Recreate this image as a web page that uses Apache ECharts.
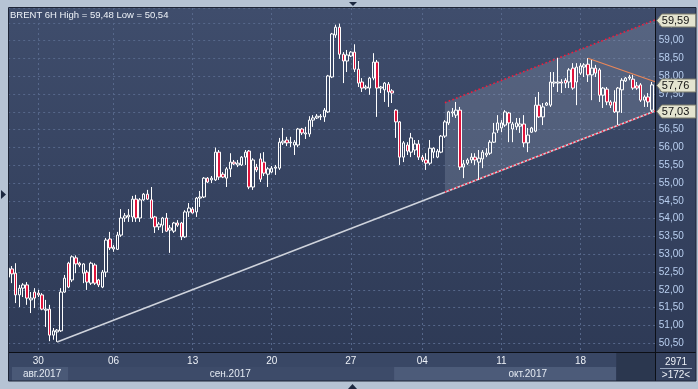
<!DOCTYPE html>
<html><head><meta charset="utf-8">
<script src="https://cdn.jsdelivr.net/npm/echarts@6/dist/echarts.min.js"></script>
<style>html,body{margin:0;padding:0;background:#b6c3d4;}#c{width:698px;height:389px;}</style>
</head><body><div id="c"></div>
<script>
// ---- data (BRENT 6H bars) ----
const opens = [52.36,52.59,52.47,51.86,52.05,52.14,51.72,51.94,51.91,51.86,51.43,51.46,50.73,50.82,50.85,51.94,52.75,52.28,52.90,52.75,52.47,52.50,52.19,52.70,52.28,52.08,52.50,53.43,53.15,53.14,53.54,54.02,54.05,54.05,54.55,54.02,54.53,54.69,54.53,54.05,53.77,53.82,54.02,53.68,53.65,53.88,53.88,53.49,54.19,54.27,54.19,54.58,54.61,55.14,55.09,55.09,55.87,55.25,55.14,55.40,55.59,55.51,55.51,55.73,55.90,54.89,55.45,55.68,55.59,55.25,55.31,55.42,55.42,56.13,56.21,56.13,56.07,56.07,56.52,56.38,56.38,56.77,56.83,56.86,56.86,57.00,57.98,59.16,59.38,58.62,58.43,58.57,58.68,58.20,57.84,57.67,57.67,57.95,58.40,57.67,57.62,57.78,57.59,57.05,56.72,55.73,56.07,55.87,55.93,56.10,55.73,55.65,55.56,55.87,55.73,55.87,56.32,56.69,56.97,56.91,57.05,55.45,55.56,55.65,55.73,55.59,55.68,55.79,55.84,56.15,56.49,56.55,56.63,56.97,56.52,56.58,56.60,56.66,56.13,56.43,56.46,57.19,56.86,57.19,57.19,57.81,57.81,57.84,57.89,57.84,58.23,57.84,58.09,58.26,58.34,58.04,58.23,58.18,57.47,57.64,57.28,57.28,57.00,57.62,57.87,57.95,57.92,57.73,57.76,57.33,57.42,57.05];
const closes = [52.61,52.45,51.86,52.05,52.14,51.77,51.77,51.77,51.86,51.46,51.46,50.73,50.85,50.87,51.94,52.33,52.08,52.93,52.73,52.70,52.73,52.22,52.75,52.19,52.14,52.50,53.40,53.18,53.20,53.54,54.02,54.08,54.10,54.55,54.02,54.53,54.69,54.55,54.02,53.77,53.85,54.02,53.65,53.74,53.88,53.82,53.49,54.19,54.30,54.16,54.58,54.61,55.14,55.03,55.14,55.87,55.17,55.17,55.40,55.59,55.54,55.56,55.73,55.87,54.89,55.65,55.37,55.11,55.28,55.40,55.42,55.45,56.15,56.18,56.13,56.15,56.15,56.52,56.41,56.41,56.77,56.83,56.88,56.88,57.05,58.01,59.19,59.38,58.62,58.43,58.60,58.68,58.20,57.81,57.67,57.70,57.95,58.40,57.67,57.70,57.81,57.56,57.53,56.72,55.73,56.13,55.90,56.27,56.10,55.73,55.65,55.56,55.98,55.98,55.90,56.32,56.72,57.00,57.00,57.05,55.45,55.54,55.65,55.73,55.65,55.70,55.87,55.84,56.15,56.41,56.69,56.69,57.00,56.69,56.66,56.69,56.66,56.13,56.35,56.55,57.19,56.86,57.14,57.25,57.84,57.84,57.84,57.81,57.81,58.18,57.67,58.26,58.29,58.32,58.04,58.23,58.09,57.47,57.67,57.28,57.19,57.00,57.67,57.89,57.95,57.98,57.67,57.67,57.33,57.42,57.28,57.76];
const lows = [52.28,52.19,51.63,51.52,51.80,51.58,51.35,51.49,51.80,51.43,50.96,50.56,50.60,50.54,50.82,51.92,52.05,52.22,52.47,52.64,52.19,52.00,52.14,52.14,52.08,52.05,52.36,53.12,53.07,53.12,53.49,53.91,53.91,53.91,53.91,53.91,54.50,54.53,53.99,53.60,53.68,53.60,53.63,53.04,53.60,53.77,53.40,53.46,54.05,54.15,54.05,54.33,54.58,55.00,55.00,55.06,55.09,55.14,54.89,55.17,55.51,55.45,55.48,55.51,54.83,54.81,55.31,55.03,55.20,54.89,55.28,55.23,55.37,56.07,56.04,56.01,55.79,56.01,56.35,56.24,56.30,56.58,56.80,56.77,56.72,56.97,57.95,59.08,58.49,57.81,58.12,58.54,58.12,57.70,57.56,57.62,57.48,57.89,56.86,57.53,57.28,57.14,57.25,56.27,55.51,55.59,55.79,55.73,55.79,55.65,55.59,55.37,55.51,55.70,55.70,55.84,56.27,56.63,56.86,56.83,55.37,55.14,55.51,55.56,55.51,55.09,55.42,55.73,55.79,56.13,56.41,56.43,56.58,56.15,56.15,56.49,56.41,56.01,55.87,56.41,56.43,56.83,56.63,57.17,57.14,57.70,57.56,57.53,57.67,57.67,57.62,57.19,58.04,57.98,57.84,57.33,57.98,57.28,57.11,57.19,57.11,56.97,56.63,56.97,57.84,57.89,57.62,57.62,57.28,57.14,57.14,57.00];
const highs = [52.70,52.67,52.75,52.14,52.19,52.22,51.94,52.05,52.00,51.91,51.72,51.58,50.93,50.90,52.05,52.42,52.79,52.97,52.97,52.79,52.75,52.56,52.79,52.75,52.31,52.56,53.46,53.63,53.26,53.63,54.27,54.16,54.27,54.64,54.67,54.58,54.72,54.81,54.89,54.08,53.91,54.05,54.16,53.82,53.91,53.96,53.91,54.24,54.44,54.33,54.61,54.78,55.17,55.17,55.20,56.00,55.93,55.31,55.45,55.84,55.65,55.65,55.76,55.93,55.93,55.70,55.54,55.84,55.87,55.45,55.48,55.51,56.27,56.55,56.30,56.30,56.21,56.55,56.55,56.58,56.88,56.91,56.94,56.94,57.11,58.04,59.22,59.45,59.48,58.68,58.74,58.71,58.90,58.43,57.95,57.76,57.98,58.65,58.46,57.73,57.84,57.84,57.64,57.08,56.74,56.18,56.15,56.41,56.21,56.21,55.79,55.84,56.21,56.01,55.96,56.35,56.77,57.03,57.11,57.28,57.14,55.65,55.70,55.84,55.84,55.93,55.93,55.98,56.21,56.69,56.91,56.77,57.05,57.00,56.72,56.83,56.83,56.91,56.55,56.58,57.42,57.56,57.25,57.28,58.12,58.12,58.52,57.92,57.95,58.23,58.37,58.37,58.37,58.37,58.51,58.46,58.32,58.23,57.70,57.70,57.33,57.61,57.70,57.95,57.98,58.04,58.04,57.84,57.81,57.47,57.53,57.84];
const barCount = 173; // 172 bars + right edge slot
const categories = Array.from({length: barCount}, (_, i) => 'bar' + i);
const dayTickIndex = [8, 28, 49, 70, 91, 110, 131, 152];
const dayTickLabels = ['30', '06', '13', '20', '27', '04', '11', '18'];
const monthLabelIndex = [9, 59, 138];
const monthLabels = ['авг.2017', 'сен.2017', 'окт.2017'];
const monthEdgeIndex = [1, 16, 102.5, 161.5];
const trendLine = [[13, 50.54], [172, 57.03]];
const channelUpper = [[116, 57.26], [172, 59.59]];
const channelLower = [[116, 54.75], [172, 57.03]];
const orangeLine = [[154, 58.51], [172, 57.84]];
const tagValues = [59.59, 57.76, 57.03];
const titleText = 'BRENT 6H High = 59,48 Low = 50,54';
const infoTop = '2971', infoBottom = '>172<';

const FONT = 'Liberation Sans, Arial, sans-serif';
const fmt = v => v.toFixed(2).replace('.', ',');
const candleData = opens.map((o, i) => [o, closes[i], lows[i], highs[i]]);
while (candleData.length < barCount) candleData.push('-');

const chart = echarts.init(document.getElementById('c'), null, {renderer: 'canvas'});
const dash = {color: '#56678a', type: [2, 3], width: 1};
const redDots = {color: '#f01c3c', width: 1.6, type: [1.6, 2.4]};
const option = {
  animation: false,
  backgroundColor: '#b6c3d4',
  grid: {left: 8.18, top: 8, width: 647.58, height: 344, show: false},
  xAxis: [{
    type: 'category', data: categories, boundaryGap: false,
    axisLine: {show: false}, axisTick: {show: false},
    axisLabel: {interval: (i) => dayTickIndex.includes(i), formatter: (v, i) => dayTickLabels[dayTickIndex.indexOf(i)] || '',
      color: '#eef2f8', fontSize: 10, fontFamily: FONT, margin: 4},
    splitLine: {show: true, interval: (i) => dayTickIndex.includes(i), lineStyle: dash}
  }, {
    type: 'category', data: categories, boundaryGap: false, position: 'bottom', offset: 13,
    axisLine: {show: false}, axisTick: {show: false}, splitLine: {show: false},
    axisLabel: {interval: (i) => monthLabelIndex.includes(i), formatter: (v, i) => monthLabels[monthLabelIndex.indexOf(i)] || '',
      color: '#e4eaf3', fontSize: 10, fontFamily: FONT, margin: 4}
  }],
  yAxis: {
    type: 'value', position: 'right', min: 50.256, max: 59.919, minInterval: 0.5, maxInterval: 0.5, scale: true,
    axisLine: {show: false}, axisTick: {show: false},
    splitLine: {show: true, lineStyle: dash},
    axisLabel: {showMinLabel: false, showMaxLabel: false, formatter: fmt, color: '#b9cff0', fontSize: 10, fontFamily: FONT, margin: 3}
  },
  series: [{
    type: 'custom', silent: true, z: 1, data: [0],
    renderItem: (p, api) => {
      const a = api.coord(channelUpper[0]), b = api.coord(channelUpper[1]);
      const c = api.coord(channelLower[1]), d = api.coord(channelLower[0]);
      return {type: 'polygon', shape: {points: [a, b, c, d]}, style: {fill: 'rgba(210,218,235,0.17)'}};
    }
  }, {
    type: 'line', data: trendLine, symbol: 'none', silent: true, clip: false, z: 2,
    lineStyle: {color: '#cfd3dc', width: 1.6}
  }, {
    type: 'line', data: channelLower, symbol: 'none', silent: true, clip: false, z: 2,
    lineStyle: redDots
  }, {
    type: 'line', data: channelUpper, symbol: 'none', silent: true, clip: false, z: 2,
    lineStyle: redDots
  }, {
    type: 'line', data: orangeLine, symbol: 'none', silent: true, clip: false, z: 2,
    lineStyle: {color: '#ec8758', width: 1.1}
  }, {
    type: 'candlestick', data: candleData, barWidth: 3, z: 3, silent: true,
    itemStyle: {color: 'rgba(0,0,0,0)', color0: '#e0143c', borderColor: '#ffffff', borderColor0: '#ffffff', borderWidth: 1}
  }, {
    type: 'custom', silent: true, z: 60, clip: false,
    data: tagValues.map(v => [barCount - 1, v]),
    renderItem: (p, api) => {
      const pt = api.coord([api.value(0), api.value(1)]);
      const x0 = pt[0] + 1, y = Math.round(pt[1]) + 0.5;
      return {type: 'group', children: [
        {type: 'polygon', shape: {points: [[x0, y], [x0 + 5, y - 6.5], [x0 + 39, y - 6.5], [x0 + 39, y + 6.5], [x0 + 5, y + 6.5]]},
          style: {fill: '#e4e4d0', stroke: '#7d7d6c', lineWidth: 1}},
        {type: 'text', x: x0 + 5, y: y, style: {text: fmt(api.value(1)), fill: '#141414', font: '11px ' + FONT, verticalAlign: 'middle', align: 'left'}}
      ]};
    }
  }]
};
chart.setOption(option);

const px = k => chart.convertToPixel({xAxisIndex: 0}, k);
const xAt = k => { const f = Math.floor(k); const a = px(f), b = px(f + 1); return a + (b - a) * (k - f); };
const e = monthEdgeIndex.map(xAt);
const plotGrad = new echarts.graphic.LinearGradient(0, 0, 0, 1, [{offset: 0, color: '#3f4d6c'}, {offset: 1, color: '#2e3a56'}]);
const g = [
  {type: 'rect', z: -10, shape: {x: 8, y: 8, width: 688, height: 373}, style: {fill: '#33405c'}},
  {type: 'rect', z: -9, shape: {x: 8, y: 8, width: 647, height: 344}, style: {fill: plotGrad}},
  {type: 'rect', z: -9, shape: {x: 655, y: 8, width: 41, height: 344}, style: {fill: plotGrad}},
  {type: 'rect', z: -9, shape: {x: 8, y: 352, width: 647, height: 29}, style: {fill: '#394765'}},
  {type: 'rect', z: -8, shape: {x: e[0], y: 367, width: e[1] - e[0], height: 14}, style: {fill: '#4a5977'}},
  {type: 'rect', z: -8, shape: {x: e[1], y: 367, width: e[2] - e[1], height: 14}, style: {fill: '#3d4b69'}},
  {type: 'rect', z: -8, shape: {x: e[2], y: 367, width: e[3] - e[2], height: 14}, style: {fill: '#4c5b79'}},
  {type: 'rect', z: -8, shape: {x: e[3], y: 353, width: 655 - e[3], height: 28}, style: {fill: '#2b374f'}},
  {type: 'rect', z: -9, shape: {x: 655, y: 352, width: 41, height: 29}, style: {fill: '#34415e'}},
  {type: 'rect', z: 50, shape: {x: 0, y: 0, width: 8, height: 389}, style: {fill: '#b6c3d4'}},
  {type: 'line', z: 51, shape: {x1: 655.5, y1: 8, x2: 655.5, y2: 381}, style: {stroke: '#0c0f16', lineWidth: 1}},
  {type: 'line', z: 51, shape: {x1: 8, y1: 352.5, x2: 696, y2: 352.5}, style: {stroke: '#0c0f16', lineWidth: 1}},
  {type: 'rect', z: 51, shape: {x: 8.5, y: 7.5, width: 687.5, height: 373.5}, style: {fill: null, stroke: '#1d2436', lineWidth: 1}},
  {type: 'line', z: 51, shape: {x1: 660, y1: 368.5, x2: 692, y2: 368.5}, style: {stroke: '#9aa8c0', lineWidth: 1}},
  {type: 'text', z: 52, x: 676, y: 362, style: {text: infoTop, fill: '#eef2f8', font: '10px ' + FONT, align: 'center', verticalAlign: 'middle'}},
  {type: 'text', z: 52, x: 676, y: 375, style: {text: infoBottom, fill: '#eef2f8', font: '10px ' + FONT, align: 'center', verticalAlign: 'middle'}},
  {type: 'text', z: 52, x: 10, y: 15, style: {text: titleText, fill: '#eef2f8', font: '9.5px ' + FONT, align: 'left', verticalAlign: 'middle'}},
  {type: 'polygon', z: 52, shape: {points: [[349, 2], [357, 2], [353, 6]]}, style: {fill: '#1c2840'}},
  {type: 'polygon', z: 52, shape: {points: [[348, 389], [357, 389], [352.5, 384]]}, style: {fill: '#1c2840'}},
  {type: 'polygon', z: 52, shape: {points: [[1, 190], [1, 199], [6, 194.5]]}, style: {fill: '#1c2840'}}
];
chart.setOption({graphic: {elements: g}});
</script></body></html>
